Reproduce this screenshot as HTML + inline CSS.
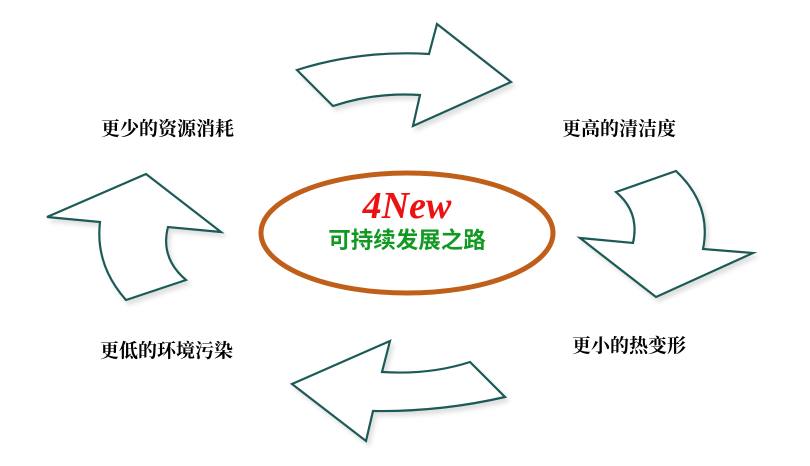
<!DOCTYPE html>
<html><head><meta charset="utf-8"><style>
html,body{margin:0;padding:0;background:#fff;}
svg{display:block;}
.l{font-family:"Liberation Serif","Noto Serif CJK SC",serif;font-weight:bold;font-size:19px;fill:#000;}
</style></head><body>
<svg width="810" height="466" viewBox="0 0 810 466" xmlns="http://www.w3.org/2000/svg">
<defs><filter id="sh" x="-10%" y="-10%" width="130%" height="130%"><feDropShadow dx="3" dy="4" stdDeviation="2" flood-color="#000" flood-opacity="0.12"/></filter></defs>
<g fill="#fff" stroke="#1f5a58" stroke-width="2.2" stroke-linejoin="miter" filter="url(#sh)">
<path d="M297,70 Q360,50 429,54 L437,24 L511,82 L413,126 L420,95 Q375,92 333,106 Z"/>
<path d="M616,192 L676,171 Q712,205 703,249 L753,253 L656,297 L580,238 L633,243 Q640,212 616,192 Z"/>
<path d="M146,174 L221,232 L168,227 Q160,258 186,280 L126,300 Q95,265 100,222 L47,217 Z"/>
<path d="M390,341 L382,372 Q430,375 470,362 L505,397 Q440,412 373,411 L366,441 L292,384 Z"/>
</g>
<ellipse cx="407" cy="233" rx="146" ry="60" fill="#fff" stroke="#c05f1a" stroke-width="5"/>
<text x="407" y="218" text-anchor="middle" font-family="Liberation Serif,serif" font-style="italic" font-weight="bold" font-size="38" fill="#ee1111">4New</text>
<text x="407" y="248" text-anchor="middle" font-family="Liberation Sans,Noto Sans CJK SC,sans-serif" font-weight="bold" font-size="22.5" fill="#119922">可持续发展之路</text>
<text class="l" x="101" y="135">更少的资源消耗</text>
<text class="l" x="562" y="135">更高的清洁度</text>
<text class="l" x="572" y="352">更小的热变形</text>
<text class="l" x="100" y="357">更低的环境污染</text>
</svg>
</body></html>
